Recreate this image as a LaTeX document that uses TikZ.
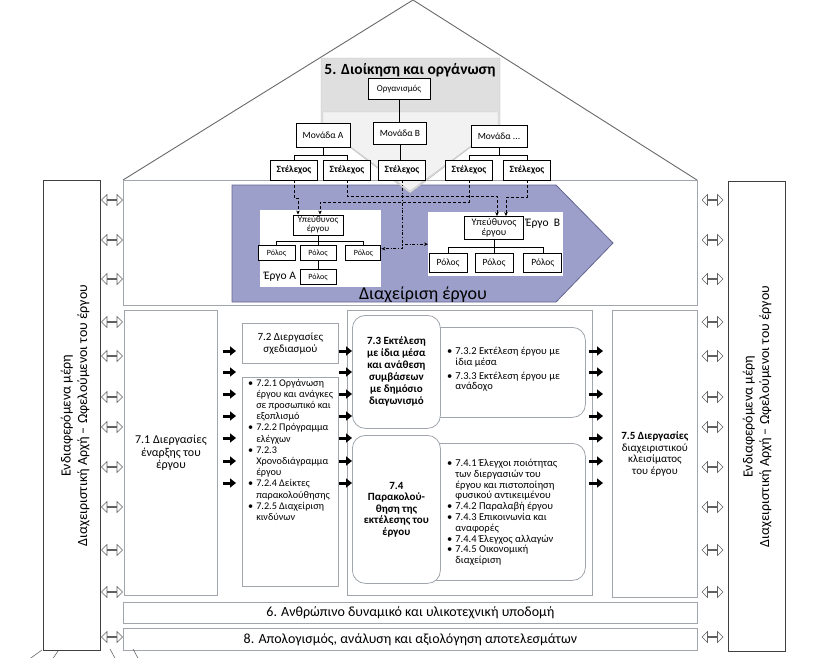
\documentclass[tikz,border=0pt]{standalone}
\usepackage{fontspec}
\setmainfont{Carlito}
\usetikzlibrary{positioning,arrows.meta,shapes.arrows}

\definecolor{projfill}{RGB}{157,159,203}
\definecolor{projline}{RGB}{100,102,145}
\definecolor{wallgray}{RGB}{160,166,172}
\definecolor{roofgray}{RGB}{105,105,105}

\newcommand{\fsz}[2]{\fontsize{#1}{#2}\selectfont}

\begin{document}
\begin{tikzpicture}[
x=1pt, y=-1pt,
>={Stealth[length=4pt,width=3.5pt]},
wall/.style={draw=wallgray, line width=0.8pt},
procbox/.style={wall, fill=white, align=center, inner sep=2pt},
roundbox/.style={procbox, rounded corners=13pt},
orgbox/.style={draw, line width=0.9pt, fill=white, align=center, inner sep=1pt},
stelbox/.style={orgbox, minimum width=47pt, minimum height=20pt, font=\bfseries\fsz{9.5}{10}},
rolebox/.style={orgbox, minimum height=15pt, font=\fsz{8}{8.5}},
tree/.style={line width=0.5pt},
assign/.style={densely dashed, line width=0.6pt, ->},
assigndot/.style={dash dot, line width=0.6pt, ->},
flowarrow/.style={line width=3pt, -{Triangle[length=6pt,width=9pt]}},
linkarrow/.style={double arrow, draw=gray!75!black, line width=0.6pt, fill=white, inner sep=0pt,
  minimum height=21pt, minimum width=11pt, double arrow head extend=3pt, double arrow head indent=0pt},
stakebox/.style={draw=black!75, line width=1.4pt, minimum width=57pt, minimum height=470pt}
]

\useasboundingbox (0,0) rectangle (828,657);

%-------------------------
% Stakeholders
%-------------------------

\node[stakebox, anchor=north west] (lsh) at (43,180) {};
\node[stakebox, anchor=north west] (rsh) at (728,181) {};

\node[rotate=90, align=center, font=\fsz{14}{16.5}] (lshtxt) at ([xshift=3pt]lsh.center)
{Ενδιαφερόμενα μέρη\\Διαχειριστική Αρχή – Ωφελούμενοι του έργου};
\node[rotate=90, align=center, font=\fsz{14}{16.5}] (rshtxt) at (rsh.center)
{Ενδιαφερόμενα μέρη\\Διαχειριστική Αρχή – Ωφελούμενοι του έργου};

%-------------------------
% Roof and management area
%-------------------------

\draw[roofgray, line width=0.9pt] (123,180) -- (413,0) -- (697,180);

\node[wall, minimum width=574pt, minimum height=125pt, anchor=north west] (sec5) at (123,180) {};

\draw[projline, fill=projfill, line width=0.8pt]
  (232,185) -- (556,185) -- (613,243) -- (556,302) -- (232,302) -- cycle;
\node[font=\fsz{18}{20}] (lblmgmt) at (423,295) {Διαχείριση έργου};

\draw[gray!55, fill=gray!25] (321,58) -- (500,58) -- (500,125) -- (410,193) -- (321,125) -- cycle;
\draw[gray!45, fill=gray!10] (323,112) -- (498,112) -- (498,126) -- (410,191) -- (323,126) -- cycle;

\node[font=\bfseries\fsz{15.5}{17}] (title5) at (410,70) {5. Διοίκηση και οργάνωση};

\node[orgbox, minimum width=62pt, minimum height=21pt, font=\fsz{9}{10}] (org) at (399,89) {Οργανισμός};
\node[orgbox, minimum width=54pt, minimum height=24pt, font=\fsz{9.5}{10}] (monA) at (323,135) {Μονάδα Α};
\node[orgbox, minimum width=53pt, minimum height=22pt, font=\fsz{9.5}{10}] (monB) at (400,133) {Μονάδα Β};
\node[orgbox, minimum width=56pt, minimum height=22pt, font=\fsz{9.5}{10}] (monC) at (499,136) {Μονάδα ...};

\node[stelbox] (stel1) at (294,170) {Στέλεχος};
\node[stelbox, right=5pt of stel1] (stel2) {Στέλεχος};
\node[stelbox] (stel3) at (402,170) {Στέλεχος};
\node[stelbox] (stel4) at (469,170) {Στέλεχος};
\node[stelbox, right=10pt of stel4] (stel5) {Στέλεχος};

\draw[tree] (org.south) -- (org.south |- monB.north);
\draw[tree] (monA.south) -- ++(0,8) -| (stel1.north);
\draw[tree] (monA.south) -- ++(0,8) -| (stel2.north);
\draw[tree] (monB.south) -- (monB.south |- stel3.north);
\draw[tree] (monC.south) -- ++(0,8) -| (stel4.north);
\draw[tree] (monC.south) -- ++(0,8) -| (stel5.north);

%-------------------------
% Projects
%-------------------------

\node[fill=white, minimum width=121pt, minimum height=77pt, anchor=north west, inner sep=0pt] (ergoA) at (260,210) {};
\node[fill=white, minimum width=135pt, minimum height=64pt, anchor=north west, inner sep=0pt] (ergoB) at (428,212) {};

\node[orgbox, minimum width=50pt, minimum height=20pt, font=\fsz{9}{9}] (respA) at (318,225) {Υπεύθυνος\\έργου};
\node[rolebox, minimum width=36pt] (rolA2) at (318,253) {Ρόλος};
\node[rolebox, minimum width=37pt, left=4pt of rolA2] (rolA1) {Ρόλος};
\node[rolebox, minimum width=35pt, right=9pt of rolA2] (rolA3) {Ρόλος};
\node[rolebox, minimum width=36pt, below=8pt of rolA2] (rolA4) {Ρόλος};
\node[font=\fsz{11.5}{12}] (lblA) at (280,277) {Έργο Α};

\node[orgbox, minimum width=59pt, minimum height=23pt, font=\fsz{10}{10.5}] (respB) at (494,228) {Υπεύθυνος\\έργου};
\node[rolebox, minimum width=38pt, minimum height=19pt, font=\fsz{9.5}{10}] (rolB2) at (494,262.5) {Ρόλος};
\node[rolebox, minimum width=38pt, minimum height=19pt, font=\fsz{9.5}{10}, left=7pt of rolB2] (rolB1) {Ρόλος};
\node[rolebox, minimum width=38pt, minimum height=19pt, font=\fsz{9.5}{10}, right=10pt of rolB2] (rolB3) {Ρόλος};
\node[font=\fsz{11.5}{12}] (lblB) at (543,224) {Έργο\ \ Β};

\draw[tree] (respA.south) -- (rolA2.north);
\draw[tree] (respA.south) -- ++(0,6) -| (rolA1.north);
\draw[tree] (respA.south) -- ++(0,6) -| (rolA3.north);
\draw[tree] (rolA2.south) -- (rolA4.north);
\draw[tree] (respB.south) -- (rolB2.north);
\draw[tree] (respB.south) -- ++(0,7) -| (rolB1.north);
\draw[tree] (respB.south) -- ++(0,7) -| (rolB3.north);

\draw[assign] (stel1.south) -- ++(0,18) -| ([xshift=-20pt]respA.north);
\draw[assign] (stel2.south) -- ++(0,16) -| ([xshift=3pt]respB.north);
\draw[assign] (stel4.south) -- ++(0,22) -| ([xshift=2pt]respA.north);
\draw[assign] (stel5.south) -- ++(0,17) -| ([xshift=12pt]respB.north);
\draw[assigndot] (stel3.south) |- (ergoB.west);
\draw[assigndot] (stel3.south) |- (ergoA.east);

%-------------------------
% Processes
%-------------------------

\node[procbox, minimum width=93pt, minimum height=285pt, anchor=north west, font=\fsz{12}{12.5}] (p71) at (124,310)
{7.1 Διεργασίες\\έναρξης του\\έργου};

\node[procbox, minimum width=96pt, minimum height=40pt, anchor=north west, font=\fsz{11}{12.5}] (p72h) at (242,323)
{7.2 Διεργασίες\\σχεδιασμού};
\node[procbox, minimum width=96pt, minimum height=209pt, anchor=north west] (p72l) at (242,377) {};
\node[anchor=north west, inner sep=0pt, font=\fsz{10.2}{11.2}] (p72txt) at (248,378)
{\begin{tabular}{@{}l@{\hspace{3pt}}l@{}}
\textbullet & 7.2.1 Οργάνωση\\
 & έργου και ανάγκες\\
 & σε προσωπικό και\\
 & εξοπλισμό\\
\textbullet & 7.2.2 Πρόγραμμα\\
 & ελέγχων\\
\textbullet & 7.2.3\\
 & Χρονοδιάγραμμα\\
 & έργου\\
\textbullet & 7.2.4 Δείκτες\\
 & παρακολούθησης\\
\textbullet & 7.2.5 Διαχείριση\\
 & κινδύνων
\end{tabular}};

\node[wall, minimum width=245pt, minimum height=285pt, anchor=north west] (c734) at (347,310) {};

\node[roundbox, minimum width=165pt, minimum height=90pt, anchor=north west] (p73r) at (420,327) {};
\node[roundbox, minimum width=88pt, minimum height=113pt, anchor=north west, font=\bfseries\fsz{11}{12}] (p73l) at (352,315)
{7.3 Εκτέλεση\\με ίδια μέσα\\και ανάθεση\\συμβάσεων\\με δημόσιο\\διαγωνισμό};
\node[anchor=west, inner sep=0pt, font=\fsz{10.5}{10}] (p73txt) at (447,370)
{\begin{tabular}{@{}l@{\hspace{3pt}}l@{}}
\textbullet & 7.3.2 Εκτέλεση έργου με\\
 & ίδια μέσα\\[4pt]
\textbullet & 7.3.3 Εκτέλεση έργου με\\
 & ανάδοχο
\end{tabular}};

\node[roundbox, minimum width=165pt, minimum height=137pt, anchor=north west] (p74r) at (420,443) {};
\node[roundbox, minimum width=88pt, minimum height=148pt, anchor=north west, font=\bfseries\fsz{11}{11.5}] (p74l) at (352,435)
{7.4\\Παρακολού-\\θηση της\\εκτέλεσης του\\έργου};
\node[anchor=west, inner sep=0pt, font=\fsz{10.5}{10.8}] (p74txt) at (447,513)
{\begin{tabular}{@{}l@{\hspace{3pt}}l@{}}
\textbullet & 7.4.1 Έλεγχοι ποιότητας\\
 & των διεργασιών του\\
 & έργου και πιστοποίηση\\
 & φυσικού αντικειμένου\\
\textbullet & 7.4.2 Παραλαβή έργου\\
\textbullet & 7.4.3 Επικοινωνία και\\
 & αναφορές\\
\textbullet & 7.4.4 Έλεγχος αλλαγών\\
\textbullet & 7.4.5 Οικονομική\\
 & διαχείριση
\end{tabular}};

\node[procbox, minimum width=85pt, minimum height=287pt, anchor=north west, font=\fsz{11}{11.8}] (p75) at (612,310)
{\textbf{7.5 Διεργασίες}\\διαχειριστικού\\κλεισίματος\\του έργου};

\node[procbox, minimum width=574pt, minimum height=21pt, anchor=north west, font=\fsz{14}{15}] (p6) at (123,602)
{6. Ανθρώπινο δυναμικό και υλικοτεχνική υποδομή};
\node[procbox, minimum width=574pt, minimum height=22pt, anchor=north west, font=\fsz{14}{15}] (p8) at (123,628)
{8. Απολογισμός, ανάλυση και αξιολόγηση αποτελεσμάτων};

%-------------------------
% Arrows
%-------------------------

\foreach \y in {351,372,394,416,438,461,483} {
  \draw[flowarrow, shorten <=5pt, shorten >=6pt] (p71.east |- 0,\y) -- (p72h.west |- 0,\y);
  \draw[flowarrow, shorten <=0pt, shorten >=-5pt] (p72h.east |- 0,\y) -- (c734.west |- 0,\y);
  \draw[flowarrow, shorten <=-4pt, shorten >=9pt] (c734.east |- 0,\y) -- (p75.west |- 0,\y);
}

\foreach \y [count=\i] in {200,240,279,322,356,397,427,467,507,550,592,637} {
  \node[linkarrow] (la\i) at (112,\y) {};
  \node[linkarrow] (ra\i) at (712.5,\y) {};
}

% foundation
\draw[roofgray, line width=0.6pt] (42,650) -- (28,660);
\draw[roofgray, line width=0.6pt] (58,651) -- (52,660);
\draw[roofgray, line width=0.6pt] (110,649) -- (116,660);
\draw[roofgray, line width=0.6pt] (133,649) -- (139,660);

\end{tikzpicture}
\end{document}
